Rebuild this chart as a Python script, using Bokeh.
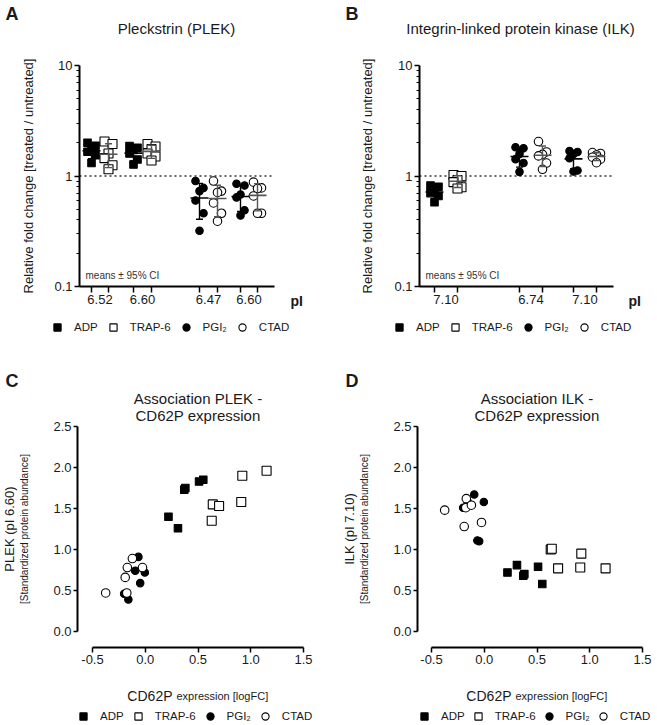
import math
import numpy as np
from bokeh.plotting import figure
from bokeh.models import (ColumnDataSource, FixedTicker, NumeralTickFormatter, Label,
                          Legend, LegendItem, Whisker, TeeHead, Range1d)
from bokeh.layouts import column, row
from bokeh.embed import file_html
from bokeh.resources import INLINE

FONT = "Liberation Sans"
TXT = "#1a1a1a"

TREATMENTS = ["ADP", "TRAP-6", "PGI\u2082", "CTAD"]

# ---------------- Panel A: Pleckstrin (PLEK), fold change treated / untreated
PLEK_PI_LABELS = ["6.52", "6.60", "6.47", "6.60"]
plek_adp_652 = [2.00, 1.88, 1.76, 1.66, 1.54, 1.31]
plek_trap_652 = [2.05, 1.95, 1.60, 1.45, 1.25, 1.15]
plek_adp_660 = [1.87, 1.80, 1.72, 1.60, 1.41, 1.27]
plek_trap_660 = [1.95, 1.85, 1.75, 1.60, 1.50, 1.38]
plek_pgi_647 = [0.90, 0.78, 0.73, 0.60, 0.46, 0.32]
plek_ctad_647 = [0.90, 0.73, 0.71, 0.57, 0.46, 0.39]
plek_pgi_660 = [0.85, 0.82, 0.68, 0.64, 0.49, 0.44]
plek_ctad_660 = [0.88, 0.78, 0.77, 0.66, 0.46, 0.46]

# ---------------- Panel B: Integrin-linked protein kinase (ILK)
ILK_PI_LABELS = ["7.10", "6.74", "7.10"]
ilk_adp_710 = [0.82, 0.80, 0.74, 0.70, 0.66, 0.58]
ilk_trap_710 = [1.02, 1.00, 0.92, 0.88, 0.79, 0.77]
ilk_pgi_674 = [1.82, 1.78, 1.58, 1.42, 1.31, 1.09]
ilk_ctad_674 = [2.05, 1.65, 1.57, 1.52, 1.31, 1.15]
ilk_pgi_710 = [1.68, 1.65, 1.58, 1.45, 1.12, 1.10]
ilk_ctad_710 = [1.63, 1.60, 1.55, 1.48, 1.42, 1.32]

# ---------------- Panels C / D: CD62P expression [logFC] vs standardized abundance
cd62p_adp = [0.22, 0.31, 0.37, 0.38, 0.51, 0.55]
cd62p_trap = [0.63, 0.64, 0.70, 0.91, 0.92, 1.15]
cd62p_pgi = [-0.20, -0.16, -0.095, -0.065, -0.048, -0.004]
cd62p_ctad = [-0.375, -0.19, -0.175, -0.17, -0.122, -0.026]

plek_std_adp = [1.40, 1.26, 1.73, 1.75, 1.83, 1.85]
plek_std_trap = [1.35, 1.55, 1.53, 1.58, 1.90, 1.96]
plek_std_pgi = [0.46, 0.39, 0.74, 0.91, 0.59, 0.72]
plek_std_ctad = [0.47, 0.66, 0.47, 0.78, 0.89, 0.78]

ilk_std_adp = [0.72, 0.81, 0.68, 0.70, 0.79, 0.58]
ilk_std_trap = [1.00, 1.01, 0.77, 0.78, 0.95, 0.77]
ilk_std_pgi = [1.51, 1.59, 1.67, 1.11, 1.10, 1.58]
ilk_std_ctad = [1.48, 1.28, 1.51, 1.62, 1.54, 1.33]

# ---------------- layout constants (pixels)
A_POS = [12, 29, 54, 72, 120, 138, 161, 178]     # group slots along the pI axis
B_POS = [15, 38, 100, 123, 154, 177]
JITTER = [-4, 4, 0, -4, 4, 0]
T975_DF5 = 2.5706

STYLE = {
    "ADP": dict(marker="square", fill_color="black", size=7.5, ec="black"),
    "TRAP-6": dict(marker="square", fill_color="white", size=9, ec="#555555"),
    "PGI\u2082": dict(marker="circle", fill_color="black", size=7.5, ec="black"),
    "CTAD": dict(marker="circle", fill_color="white", size=8.5, ec="#555555"),
}


class Geo:
    def __init__(self, left, top, w, h):
        self.left, self.top, self.w, self.h = left, top, w, h

    def sx(self, x):
        return x - self.left

    def sy(self, y):
        return self.top + self.h - y


def lab(p, g, x, y, text, size, bold=False, align="left", baseline="middle", angle=0.0,
        color=TXT):
    p.add_layout(Label(x=g.sx(x), y=g.sy(y), x_units="screen", y_units="screen", text=text,
                       text_font=FONT, text_font_size=f"{size}px",
                       text_font_style="bold" if bold else "normal",
                       text_align=align, text_baseline=baseline, angle=angle,
                       text_color=color))


def make_fig(g, xr, yr, log=False):
    p = figure(frame_width=g.w, frame_height=g.h, x_range=Range1d(*xr), y_range=Range1d(*yr),
               y_axis_type="log" if log else "linear",
               output_backend="svg", toolbar_location=None,
               min_border=0, min_border_left=0, min_border_right=0,
               min_border_top=0, min_border_bottom=0)
    p.xgrid.visible = False
    p.ygrid.visible = False
    p.outline_line_color = None
    for ax in (p.xaxis[0], p.yaxis[0]):
        ax.axis_line_width = 2
        ax.axis_line_color = "black"
        ax.major_tick_line_width = 1.5
        ax.major_tick_line_color = "black"
        ax.minor_tick_line_width = 1.2
        ax.minor_tick_line_color = "black"
        ax.major_tick_in = 0
        ax.minor_tick_in = 0
        ax.major_label_text_font = FONT
        ax.major_label_text_font_size = "13px"
        ax.major_label_text_color = TXT
        ax.axis_label_text_font = FONT
        ax.axis_label_text_font_style = "normal"
        ax.axis_label_text_color = TXT
    return p


def add_legend(p, g, renderers, first_glyph_center, center_y, spacing):
    gw = 18
    items = [LegendItem(label=t, renderers=[r]) for t, r in zip(TREATMENTS, renderers)]
    leg = Legend(items=items, orientation="horizontal",
                 location=(int(g.sx(first_glyph_center - gw / 2)), int(g.sy(center_y + gw / 2))),
                 glyph_width=gw, glyph_height=gw, label_standoff=8, spacing=spacing,
                 padding=0, margin=0, border_line_color=None, background_fill_alpha=0,
                 label_text_font=FONT, label_text_font_size="11.5px", label_text_color=TXT,
                 label_height=gw, label_width=0)
    p.add_layout(leg, "center")


def dot_panel(g, ax_x, ax_y, ax_len, groups, positions, pi_labels, title, title_x, letter,
              letter_x, ylab_standoff, pi_x, legend_x, legend_spacing):
    dec = 110.5                      # px per decade
    y_lo = 10 ** (-1 - (g.top + g.h - ax_y) / dec)
    y_hi = 10 ** (-1 + (ax_y - g.top) / dec)
    p = make_fig(g, (g.left - ax_x, g.left + g.w - ax_x), (y_lo, y_hi), log=True)
    p.segment(x0=[0], x1=[ax_len], y0=[1], y1=[1], line_dash="2 3", line_width=1.5,
              line_color="#333333")
    first = {}
    for (treat, vals), pos in zip(groups, positions):
        st = STYLE[treat]
        r = p.scatter(x=[pos + j for j in JITTER], y=vals, marker=st["marker"], size=st["size"],
                      fill_color=st["fill_color"], line_color="black", line_width=1.1)
        first.setdefault(treat, r)
        arr = np.array(vals)
        m = arr.mean()
        h = T975_DF5 * arr.std(ddof=1) / math.sqrt(len(arr))
        src = ColumnDataSource(dict(x=[pos], lo=[m - h], hi=[m + h], m=[m]))
        p.add_layout(Whisker(source=src, base="x", lower="lo", upper="hi", dimension="height",
                             line_color=st["ec"], line_width=1.4, level="annotation",
                             upper_head=TeeHead(size=7, line_color=st["ec"], line_width=1.4),
                             lower_head=TeeHead(size=7, line_color=st["ec"], line_width=1.4)))
        p.scatter(x="x", y="m", source=src, marker="dash", size=18, line_color=st["ec"],
                  line_width=1.6)
    label_pos = [(positions[2 * i] + positions[2 * i + 1]) / 2 for i in range(len(pi_labels))]
    xa = p.xaxis[0]
    xa.fixed_location = 0.1
    xa.bounds = (0, ax_len)
    xa.ticker = FixedTicker(ticks=label_pos, minor_ticks=positions)
    xa.major_label_overrides = {lp: t for lp, t in zip(label_pos, pi_labels)}
    xa.major_tick_line_color = None
    xa.major_tick_out = 6
    xa.minor_tick_out = 6
    xa.minor_tick_line_width = 1.5
    xa.major_label_standoff = 2
    ya = p.yaxis[0]
    ya.fixed_location = 0
    ya.bounds = (0.1, 10)
    ya.ticker = FixedTicker(ticks=[0.1, 1, 10],
                            minor_ticks=[0.2, 0.3, 0.4, 0.5, 0.6, 0.7, 0.8, 0.9,
                                         2, 3, 4, 5, 6, 7, 8, 9])
    ya.formatter = NumeralTickFormatter(format="0.[0]")
    ya.major_tick_out = 5
    ya.minor_tick_out = 3
    ya.major_label_standoff = 2
    ya.axis_label = "Relative fold change [treated / untreated]"
    ya.axis_label_text_font_size = "13px"
    ya.axis_label_standoff = ylab_standoff
    lab(p, g, title_x, 28, title, 15, align="center")
    lab(p, g, letter_x, 13, letter, 18, bold=True)
    lab(p, g, ax_x + 6, 275, "means \u00b1 95% CI", 10, color="#333333")
    lab(p, g, pi_x, 300, "pI", 14, bold=True)
    add_legend(p, g, [first[t] for t in TREATMENTS], legend_x, 327, legend_spacing)
    return p


def assoc_panel(g, ax_x, x0_px, xs, ys, title1, letter_x, letter, ylab_main, ylab_x, sub_x,
                legend_x, legend_spacing):
    px_x, px_y = 105.5, 82.0          # px per unit
    y0_px = 631                        # image row of y = 0
    xa_px = 647                        # image row of the detached x axis
    xr = (-0.5 - (x0_px - g.left) / px_x, -0.5 + (g.left + g.w - x0_px) / px_x)
    yr = (-(g.top + g.h - y0_px) / px_y, (y0_px - g.top) / px_y)
    p = make_fig(g, xr, yr)
    rends = []
    for treat, xv, yv in zip(TREATMENTS, xs, ys):
        st = STYLE[treat]
        r = p.scatter(x=xv, y=yv, marker=st["marker"], size=st["size"],
                      fill_color=st["fill_color"], line_color="black", line_width=1.1)
        rends.append(r)
    ya = p.yaxis[0]
    ya.fixed_location = -0.5 - (x0_px - ax_x) / px_x
    ya.ticker = FixedTicker(ticks=[0, 0.5, 1.0, 1.5, 2.0, 2.5])
    ya.formatter = NumeralTickFormatter(format="0.0")
    ya.bounds = (0, 2.5)
    ya.major_tick_out = 4
    ya.major_label_standoff = 2
    xa = p.xaxis[0]
    xa.fixed_location = -(xa_px - y0_px) / px_y
    xa.ticker = FixedTicker(ticks=[-0.5, 0, 0.5, 1.0, 1.5])
    xa.formatter = NumeralTickFormatter(format="0.0")
    xa.bounds = (-0.5, 1.5)
    xa.major_tick_out = 5
    xa.major_label_standoff = 2
    cx = x0_px + px_x                  # image column of x = 0.5
    lab(p, g, cx, 398, title1, 15, align="center")
    lab(p, g, cx, 415, "CD62P expression", 15, align="center")
    lab(p, g, letter_x, 380, letter, 18, bold=True)
    lab(p, g, ylab_x, 528.5, ylab_main, 13, align="center", angle=math.pi / 2)
    lab(p, g, sub_x, 528.5, "[Standardized protein abundance]", 10, align="center",
        angle=math.pi / 2)
    lab(p, g, cx - 25.5, 695, "CD62P", 14, align="right", baseline="alphabetic")
    lab(p, g, cx - 21.5, 695, "expression [logFC]", 11, align="left", baseline="alphabetic")
    add_legend(p, g, rends, legend_x, 716, legend_spacing)
    return p


GA = Geo(0, 0, 330, 363)
GB = Geo(330, 0, 326, 363)
GC = Geo(0, 363, 330, 361)
GD = Geo(330, 363, 326, 361)

pa = dot_panel(
    GA, 79, 286, 195,
    [("ADP", plek_adp_652), ("TRAP-6", plek_trap_652), ("ADP", plek_adp_660),
     ("TRAP-6", plek_trap_660), ("PGI\u2082", plek_pgi_647), ("CTAD", plek_ctad_647),
     ("PGI\u2082", plek_pgi_660), ("CTAD", plek_ctad_660)],
    A_POS, PLEK_PI_LABELS, "Pleckstrin (PLEK)", 176, "A", 5, 15, 290, 57, 6)

pb = dot_panel(
    GB, 419, 286, 194,
    [("ADP", ilk_adp_710), ("TRAP-6", ilk_trap_710), ("PGI\u2082", ilk_pgi_674),
     ("CTAD", ilk_ctad_674), ("PGI\u2082", ilk_pgi_710), ("CTAD", ilk_ctad_710)],
    B_POS, ILK_PI_LABELS, "Integrin-linked protein kinase (ILK)", 520, "B", 345, 16, 628,
    399, 6)

pc = assoc_panel(GC, 77, 92, [cd62p_adp, cd62p_trap, cd62p_pgi, cd62p_ctad],
                 [plek_std_adp, plek_std_trap, plek_std_pgi, plek_std_ctad],
                 "Association PLEK -", 5, "C", "PLEK (pI 6.60)", 8.5, 24, 83, 5)

pd_ = assoc_panel(GD, 417, 431, [cd62p_adp, cd62p_trap, cd62p_pgi, cd62p_ctad],
                  [ilk_std_adp, ilk_std_trap, ilk_std_pgi, ilk_std_ctad],
                  "Association ILK -", 345, "D", "ILK (pI 7.10)", 349, 364, 424, 4)

layout = column(row(pa, pb), row(pc, pd_))

open("out.html", "w").write(file_html(layout, INLINE))
